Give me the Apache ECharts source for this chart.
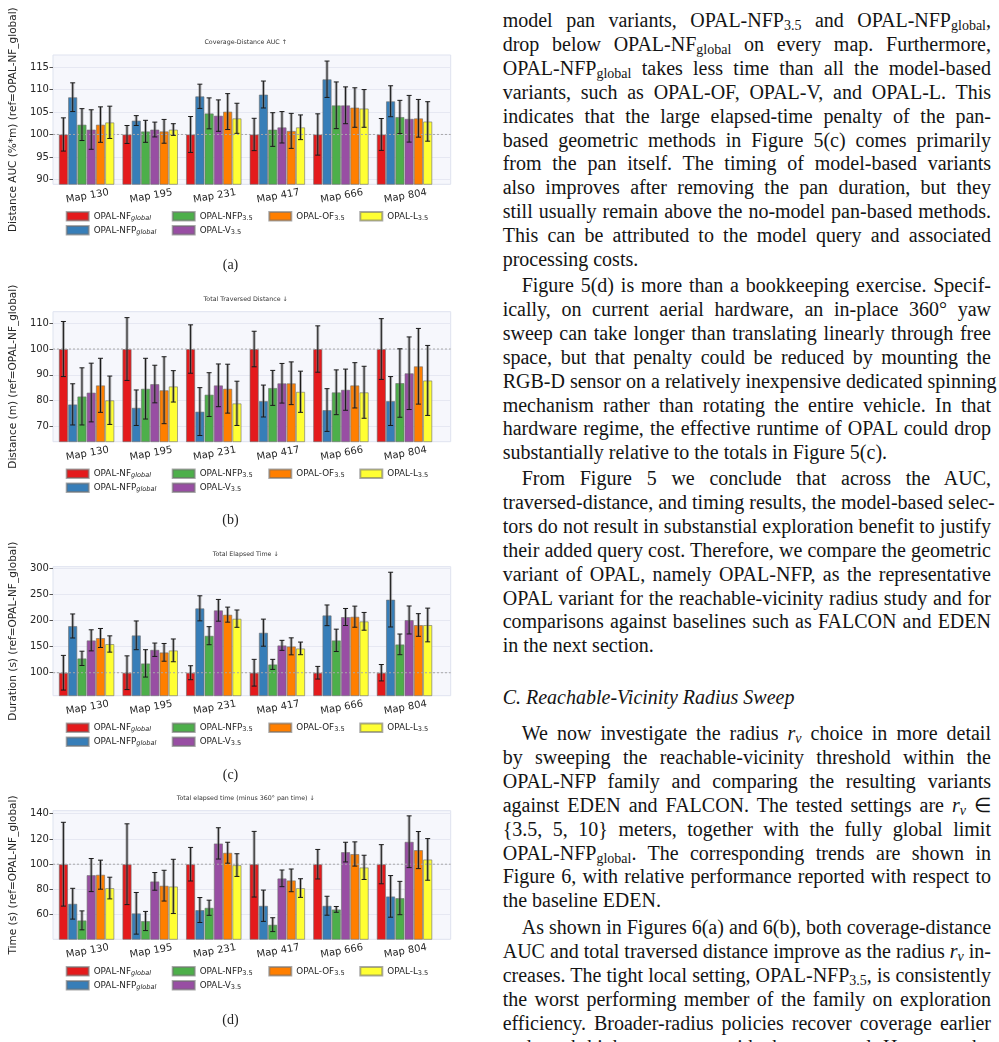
<!DOCTYPE html>
<html>
<head>
<meta charset="utf-8">
<script src="https://cdn.jsdelivr.net/npm/echarts@6/dist/echarts.min.js"></script>
<style>
  body { margin: 0; background: #fff; width: 999px; height: 1042px; overflow: hidden; position: relative; }
  #chart { position: absolute; left: 0; top: 0; width: 480px; height: 1042px; }
  .ln { position: absolute; left: 502.7px; width: 488.3px; height: 24px; line-height: 24px;
        font-family: "Liberation Serif"; font-size: 20px; color: #141414; white-space: nowrap; }
  .j { text-align: justify; text-align-last: justify; }
  .ln sub { font-size: 70%; vertical-align: -0.22em; line-height: 0; }
</style>
</head>
<body>
<div id="chart"></div>
<div id="text"></div>
<script>
// categories and series
const maps = ['Map 130', 'Map 195', 'Map 231', 'Map 417', 'Map 666', 'Map 804'];
const variants = ['OPAL-NF_global', 'OPAL-NFP_global', 'OPAL-NFP_3.5', 'OPAL-V_3.5', 'OPAL-OF_3.5', 'OPAL-L_3.5'];
const refValue = 100;

// tick labels
const aucTicks = [90, 95, 100, 105, 110, 115];
const distTicks = [70, 80, 90, 100, 110];
const timeTicks = [100, 150, 200, 250, 300];
const panTicks = [60, 80, 100, 120, 140];

// (a) coverage-distance AUC, rows = variants, cols = maps
const aucMean = [
  [100, 100, 100, 100, 100, 100],
  [108.3, 103.1, 108.5, 108.9, 112.3, 107.4],
  [102.2, 100.7, 104.7, 101.1, 106.5, 103.9],
  [101.1, 101.1, 104.2, 101.6, 106.5, 103.5],
  [102.2, 100.7, 105.1, 100.8, 106.0, 103.6],
  [102.7, 101.1, 103.6, 101.6, 105.8, 102.9]
];
const aucErr = [
  [3.7, 2.0, 4.0, 3.6, 4.6, 3.55],
  [3.2, 1.1, 2.7, 3.0, 4.05, 3.45],
  [3.55, 2.45, 3.45, 3.75, 5.2, 3.7],
  [4.4, 1.65, 3.5, 3.5, 4.1, 5.2],
  [3.95, 2.65, 4.0, 3.9, 4.4, 4.2],
  [3.6, 1.3, 3.35, 2.75, 4.2, 4.4]
];

// (b) total traversed distance
const distMean = [
  [100, 100, 100, 100, 100, 100],
  [78.5, 77.2, 75.7, 79.8, 76.3, 79.8],
  [81.6, 84.6, 82.3, 84.9, 83.2, 86.8],
  [83.1, 86.4, 85.9, 86.7, 84.2, 90.6],
  [85.9, 84.0, 84.6, 86.7, 85.9, 93.3],
  [80.1, 85.5, 78.9, 83.4, 83.2, 87.8]
];
const distErr = [
  [10.7, 12.2, 9.4, 6.9, 9.0, 11.8],
  [8.0, 6.9, 9.3, 6.2, 8.3, 9.5],
  [11.1, 11.8, 8.5, 6.8, 8.7, 13.3],
  [11.4, 7.3, 8.3, 7.7, 8.0, 14.1],
  [10.5, 13.0, 9.5, 8.3, 8.8, 14.7],
  [9.4, 6.1, 8.6, 8.0, 10.1, 13.6]
];

// (c) total elapsed time
const timeMean = [
  [100, 100, 100, 100, 100, 100],
  [189.5, 171.6, 223.3, 176.7, 209.9, 240],
  [127.5, 117.9, 170.9, 116, 162, 154.3],
  [162, 144, 219.5, 152.4, 206.7, 201],
  [166.5, 139, 211.2, 150.5, 207.3, 191.4],
  [155, 142.8, 203.5, 146.6, 198.4, 191.4]
];
const timeErr = [
  [33.2, 32.3, 13.4, 25.6, 12.1, 15.7],
  [23, 27.5, 24, 25.9, 19.8, 52.4],
  [13.7, 26.2, 17.3, 9.6, 21.4, 19.8],
  [20.2, 12.8, 20.8, 9.6, 16.3, 26.8],
  [18.2, 17, 14.4, 16.3, 20.2, 21.7],
  [15.6, 21.8, 16.6, 12.1, 17, 32.3]
];

// (d) elapsed time minus pan time
const panMean = [
  [100, 100, 100, 100, 100, 100],
  [68.7, 61.1, 63.7, 67.1, 67.1, 74.5],
  [55.5, 55.0, 65.5, 52.1, 64.2, 73.2],
  [91.4, 86.4, 116.5, 88.8, 109.6, 117.8],
  [91.7, 83.0, 109.1, 87.2, 108.1, 111.2],
  [81.1, 82.4, 99.3, 81.1, 97.5, 103.8]
];
const panErr = [
  [33.2, 32, 13.3, 26, 11.7, 15.5],
  [12.2, 16.5, 9.9, 12.4, 7.5, 16.5],
  [7.5, 7.6, 6, 5.5, 2.3, 13.2],
  [13.1, 7, 12.4, 6.6, 7.8, 20.5],
  [11.5, 12.2, 8.3, 9, 9.6, 14.7],
  [8.6, 21.5, 9, 7.4, 9.6, 16.5]
];

const colors = ['#e41a1c', '#377eb8', '#4daf4a', '#984ea3', '#ff7f00', '#ffff33'];

const panels = [
  { title: 'Coverage-Distance AUC ↑', yName: 'Distance AUC (%*m) (ref=OPAL-NF_global)',
    top: 55, bottom: 184.3, min: 88.9, max: 117.7, ticks: aucTicks, mean: aucMean, err: aucErr, cap: '(a)', capY: 265 },
  { title: 'Total Traversed Distance ↓', yName: 'Distance (m) (ref=OPAL-NF_global)',
    top: 311.7, bottom: 441.7, min: 64, max: 114.5, ticks: distTicks, mean: distMean, err: distErr, cap: '(b)', capY: 520 },
  { title: 'Total Elapsed Time ↓', yName: 'Duration (s) (ref=OPAL-NF_global)',
    top: 566.7, bottom: 695.7, min: 56, max: 303, ticks: timeTicks, mean: timeMean, err: timeErr, cap: '(c)', capY: 775 },
  { title: 'Total elapsed time (minus 360° pan time) ↓', yName: 'Time (s) (ref=OPAL-NF_global)',
    top: 810.7, bottom: 939.3, min: 40.5, max: 142.4, ticks: panTicks, mean: panMean, err: panErr, cap: '(d)', capY: 1020 }
];

// layout
const PL = 40.7, PW = 410;      // plot frame
const IL = 54.8, IW = 381.5;    // bar band area
const BW = 9.27;                // bar width
const legendCols = [65.7, 171.7, 268.3, 359.3];
const legendSlots = [[0, 0], [0, 1], [1, 0], [1, 1], [2, 0], [3, 0]];
const textColor = '#262626';

function legendLabel(name) {
  const parts = name.split('_');
  return '{m|' + parts[0] + '}' + (parts[1] === 'global' ? '{g|global}' : '{s|' + parts[1] + '}');
}

function renderErr(params, api) {
  const m = api.value(0), v = api.value(1), y = api.value(2), e = api.value(3);
  const x = api.coord([m, y])[0] + (v - 2.5) * BW;
  const yt = api.coord([m, y + e])[1];
  const yb = api.coord([m, y - e])[1];
  const dark = { stroke: '#1a1a1a', lineWidth: 1 };
  return {
    type: 'group',
    children: [
      { type: 'line', shape: { x1: x, y1: yt, x2: x, y2: yb }, style: { stroke: 'rgba(120,120,120,0.55)', lineWidth: 3 } },
      { type: 'line', shape: { x1: x, y1: yt, x2: x, y2: yb }, style: dark },
      { type: 'line', shape: { x1: x - 2.5, y1: yt, x2: x + 2.5, y2: yt }, style: dark },
      { type: 'line', shape: { x1: x - 2.5, y1: yb, x2: x + 2.5, y2: yb }, style: dark }
    ]
  };
}

function renderRef(params, api) {
  const a = api.coord([0, api.value(1)]);
  const b = api.coord([1, api.value(1)]);
  return { type: 'line', shape: { x1: a[0], y1: a[1], x2: b[0], y2: b[1] },
           style: { stroke: '#a8a8a8', lineWidth: 1, lineDash: [2, 2] } };
}

const grid = [], xAxis = [], yAxis = [], series = [], legend = [], graphic = [];

panels.forEach((p, i) => {
  const h = p.bottom - p.top;
  const gOuter = 2 * i, gInner = 2 * i + 1;
  grid.push({ left: PL, top: p.top, width: PW, height: h, show: true,
              backgroundColor: '#f6f7fc', borderColor: '#dfe3ef', borderWidth: 1 });
  grid.push({ left: IL, top: p.top, width: IW, height: h });

  xAxis.push({ gridIndex: gOuter, type: 'value', min: 0, max: 1, show: false });
  xAxis.push({
    gridIndex: gInner, type: 'category', data: maps,
    axisLine: { show: false },
    axisTick: { alignWithLabel: true, length: 3.5, lineStyle: { color: '#555' } },
    axisLabel: { rotate: 10, align: 'center', verticalAlign: 'top', margin: 7,
                 fontSize: 10, color: textColor, fontFamily: 'DejaVu Sans' }
  });

  yAxis.push({
    gridIndex: gOuter, type: 'value', min: p.min, max: p.max,
    name: p.yName, nameLocation: 'middle', nameGap: 24,
    nameTextStyle: { fontFamily: 'DejaVu Sans', fontSize: 10.5, color: textColor },
    axisLine: { show: false },
    axisTick: { show: true, length: 3.5, customValues: p.ticks, lineStyle: { color: '#555' } },
    axisLabel: { customValues: p.ticks, margin: 4, fontSize: 10, color: textColor, fontFamily: 'DejaVu Sans' },
    splitLine: { show: true, lineStyle: { color: '#e6e8f2', width: 1 } }
  });
  yAxis.push({ gridIndex: gInner, type: 'value', min: p.min, max: p.max, show: false });

  series.push({
    type: 'custom', xAxisIndex: gOuter, yAxisIndex: gOuter, silent: true, z: 3,
    data: [[0, refValue]], renderItem: renderRef
  });

  variants.forEach((name, v) => {
    series.push({
      type: 'bar', name: name, xAxisIndex: gInner, yAxisIndex: gInner,
      data: p.mean[v], barWidth: BW, barGap: '0%', silent: true, z: 2,
      itemStyle: { color: colors[v], borderColor: 'rgba(110,110,110,0.6)', borderWidth: 1 }
    });
  });

  const errData = [];
  variants.forEach((name, v) => {
    maps.forEach((m, k) => errData.push([k, v, p.mean[v][k], p.err[v][k]]));
  });
  series.push({
    type: 'custom', xAxisIndex: gInner, yAxisIndex: gInner, silent: true, z: 4,
    encode: { x: 0, y: 2 }, data: errData, renderItem: renderErr
  });

  variants.forEach((name, v) => {
    const slot = legendSlots[v];
    legend.push({
      data: [name], left: legendCols[slot[0]], top: p.bottom + 33.3 + slot[1] * 13.9 - 6.5,
      padding: 0, itemWidth: 22, itemHeight: 8.5, icon: 'rect', selectedMode: false,
      formatter: legendLabel,
      textStyle: {
        fontFamily: 'DejaVu Sans', fontSize: 8.8, color: textColor,
        rich: {
          m: { fontFamily: 'DejaVu Sans', fontSize: 8.8, color: textColor },
          g: { fontFamily: 'DejaVu Sans', fontSize: 6.6, fontStyle: 'italic', color: textColor, padding: [4, 0, 0, 0] },
          s: { fontFamily: 'DejaVu Sans', fontSize: 6.6, color: textColor, padding: [4, 0, 0, 0] }
        }
      }
    });
  });

  graphic.push({
    type: 'text', x: PL + PW / 2, y: p.top - 12.4,
    style: { text: p.title, fontFamily: 'DejaVu Sans', fontSize: 6.3, fill: '#333',
             textAlign: 'center', textVerticalAlign: 'middle' }
  });
  graphic.push({
    type: 'text', x: 230.5, y: p.capY,
    style: { text: p.cap, fontFamily: 'Liberation Serif', fontSize: 14, fill: '#222',
             textAlign: 'center', textVerticalAlign: 'middle' }
  });
});

const chart = echarts.init(document.getElementById('chart'));
chart.setOption({
  animation: false,
  textStyle: { fontFamily: 'DejaVu Sans' },
  grid: grid, xAxis: xAxis, yAxis: yAxis, legend: legend, graphic: graphic, series: series
});

// right column text: [centre y, indent, justified, html]
const textLines = [
  [20, 0, 1, 'model pan variants, OPAL-NFP<sub>3.5</sub> and OPAL-NFP<sub>global</sub>,'],
  [43.9, 0, 1, 'drop below OPAL-NF<sub>global</sub> on every map. Furthermore,'],
  [67.8, 0, 1, 'OPAL-NFP<sub>global</sub> takes less time than all the model-based'],
  [91.7, 0, 1, 'variants, such as OPAL-OF, OPAL-V, and OPAL-L. This'],
  [115.6, 0, 1, 'indicates that the large elapsed-time penalty of the pan-'],
  [139.5, 0, 1, 'based geometric methods in Figure 5(c) comes primarily'],
  [163.4, 0, 1, 'from the pan itself. The timing of model-based variants'],
  [187.3, 0, 1, 'also improves after removing the pan duration, but they'],
  [211.2, 0, 1, 'still usually remain above the no-model pan-based methods.'],
  [235.1, 0, 1, 'This can be attributed to the model query and associated'],
  [259, 0, 0, 'processing costs.'],
  [285, 1, 1, 'Figure 5(d) is more than a bookkeeping exercise. Specif-'],
  [308.9, 0, 1, 'ically, on current aerial hardware, an in-place 360° yaw'],
  [332.8, 0, 1, 'sweep can take longer than translating linearly through free'],
  [356.7, 0, 1, 'space, but that penalty could be reduced by mounting the'],
  [380.6, 0, 1, 'RGB-D sensor on a relatively inexpensive dedicated spinning'],
  [404.5, 0, 1, 'mechanism rather than rotating the entire vehicle. In that'],
  [428.4, 0, 1, 'hardware regime, the effective runtime of OPAL could drop'],
  [452.3, 0, 0, 'substantially relative to the totals in Figure 5(c).'],
  [478, 1, 1, 'From Figure 5 we conclude that across the AUC,'],
  [501.9, 0, 1, 'traversed-distance, and timing results, the model-based selec-'],
  [525.8, 0, 1, 'tors do not result in substanstial exploration benefit to justify'],
  [549.7, 0, 1, 'their added query cost. Therefore, we compare the geometric'],
  [573.6, 0, 1, 'variant of OPAL, namely OPAL-NFP, as the representative'],
  [597.5, 0, 1, 'OPAL variant for the reachable-vicinity radius study and for'],
  [621.4, 0, 1, 'comparisons against baselines such as FALCON and EDEN'],
  [645.3, 0, 0, 'in the next section.'],
  [697, 0, 0, '<i>C. Reachable-Vicinity Radius Sweep</i>'],
  [733, 1, 1, 'We now investigate the radius <i>r<sub>v</sub></i> choice in more detail'],
  [756.9, 0, 1, 'by sweeping the reachable-vicinity threshold within the'],
  [780.8, 0, 1, 'OPAL-NFP family and comparing the resulting variants'],
  [804.7, 0, 1, 'against EDEN and FALCON. The tested settings are <i>r<sub>v</sub></i> ∈'],
  [828.6, 0, 1, '{3.5, 5, 10} meters, together with the fully global limit'],
  [852.5, 0, 1, 'OPAL-NFP<sub>global</sub>. The corresponding trends are shown in'],
  [876.4, 0, 1, 'Figure 6, with relative performance reported with respect to'],
  [900.3, 0, 0, 'the baseline EDEN.'],
  [927, 1, 1, 'As shown in Figures 6(a) and 6(b), both coverage-distance'],
  [950.9, 0, 1, 'AUC and total traversed distance improve as the radius <i>r<sub>v</sub></i> in-'],
  [974.8, 0, 1, 'creases. The tight local setting, OPAL-NFP<sub>3.5</sub>, is consistently'],
  [998.7, 0, 1, 'the worst performing member of the family on exploration'],
  [1022.6, 0, 1, 'efficiency. Broader-radius policies recover coverage earlier'],
  [1046.5, 0, 1, 'and reach higher coverage with shorter travel. However, the']
];

const box = document.getElementById('text');
textLines.forEach(t => {
  const d = document.createElement('div');
  d.className = 'ln' + (t[2] ? ' j' : '');
  d.style.top = (t[0] - 12) + 'px';
  if (t[1]) { d.style.left = '521.7px'; d.style.width = '469.3px'; }
  d.innerHTML = t[3];
  box.appendChild(d);
});
</script>
</body>
</html>
